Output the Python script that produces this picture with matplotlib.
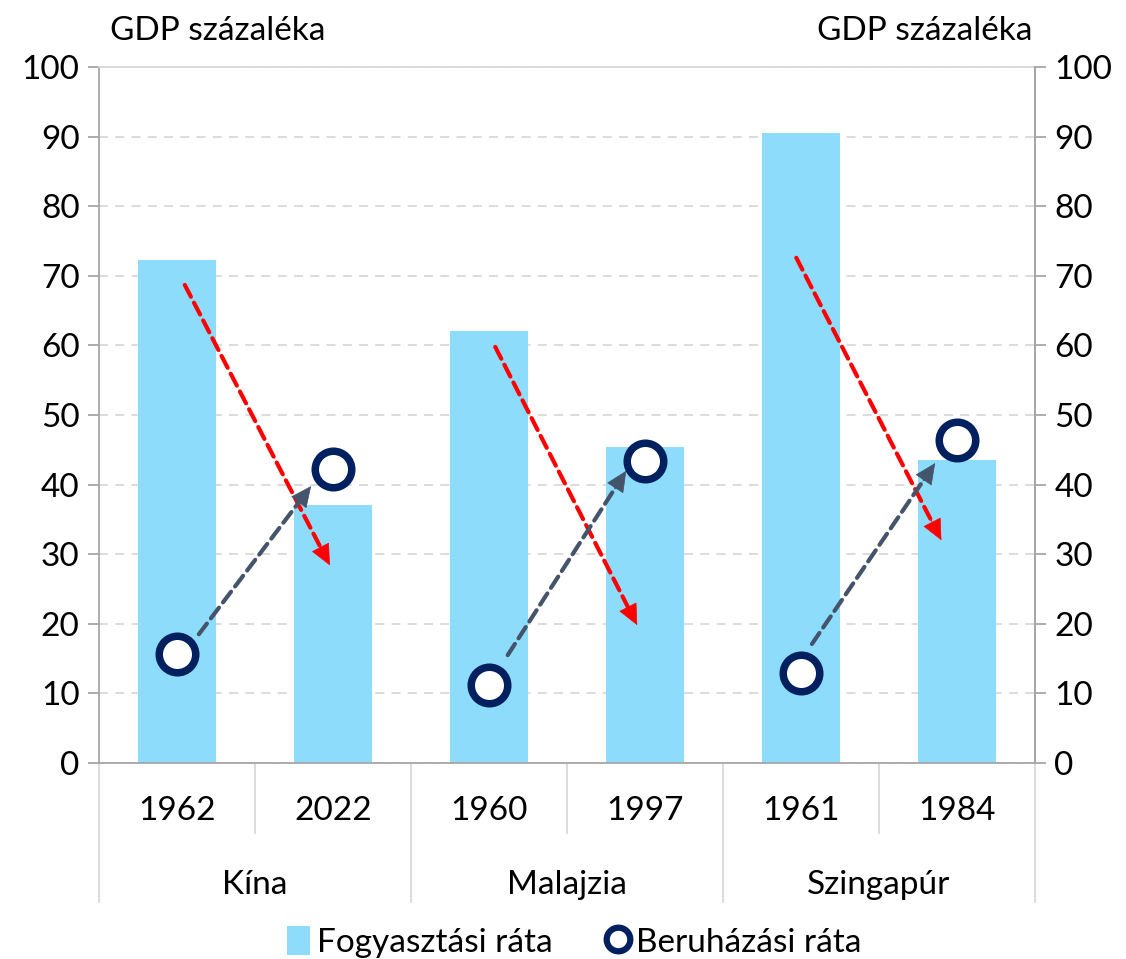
import matplotlib
matplotlib.use("Agg")
import matplotlib.pyplot as plt
from matplotlib.lines import Line2D
from matplotlib.patches import Patch
import matplotlib.transforms as mtransforms

plt.rcParams['font.family'] = ['Lato', 'DejaVu Sans']

# adatok
countries = ["Kína", "Malajzia", "Szingapúr"]
years = ["1962", "2022", "1960", "1997", "1961", "1984"]
consumption = [72.3, 37.1, 62.1, 45.4, 90.5, 43.5]
investment = [15.7, 42.2, 11.2, 43.4, 12.9, 46.4]

# nyilak (x kategória-index, y GDP%)
red_start_x = [0.05, 2.04, 3.97]
red_start_y = [68.7, 59.8, 72.6]
red_end_x = [0.98, 2.95, 4.90]
red_end_y = [28.4, 19.8, 32.0]
grey_start_x = [0.14, 2.12, 4.07]
grey_start_y = [18.5, 15.5, 17.1]
grey_end_x = [0.86, 2.88, 4.86]
grey_end_y = [39.8, 42.0, 43.1]

bar_color = "#8EDCFC"
navy = "#002060"
grey_arrow = "#44546A"
axis_grey = "#A6A6A6"
fs = 24

fig = plt.figure(figsize=(11.26, 9.59), dpi=100)
ax = fig.add_axes([0.0879, 0.2044, 0.8313, 0.7256])

x = list(range(len(years)))
ax.bar(x, consumption, width=0.5, color=bar_color, zorder=2)

# nyilak: szaggatott vonal + tömör fej
def arrow(xs, ys, xe, ye, col):
    ax.annotate("", xy=(xe, ye), xytext=(xs, ys),
                arrowprops=dict(arrowstyle="-", color=col, lw=3,
                                linestyle=(0, (3.2, 1.6)),
                                shrinkA=0, shrinkB=8),
                zorder=3)
    fx = xs + (xe - xs) * 0.9
    fy = ys + (ye - ys) * 0.9
    ax.annotate("", xy=(xe, ye), xytext=(fx, fy),
                arrowprops=dict(arrowstyle="-|>,head_length=1.4,head_width=0.65",
                                color=col, lw=0.5, shrinkA=0, shrinkB=0),
                zorder=3)

for i in range(3):
    arrow(red_start_x[i], red_start_y[i], red_end_x[i], red_end_y[i], "#FF0000")
    arrow(grey_start_x[i], grey_start_y[i], grey_end_x[i], grey_end_y[i], grey_arrow)

ax.plot(x, investment, linestyle="none", marker="o", markersize=26.3,
        markerfacecolor="white", markeredgecolor=navy, markeredgewidth=5.4,
        zorder=4)

ax.set_xlim(-0.5, 5.5)
ax.set_ylim(0, 100)
ax.set_yticks(range(0, 101, 10))
ax.tick_params(axis="y", labelsize=fs, length=8, color=axis_grey, width=1.3, pad=6)
ax.yaxis.grid(True, linestyle=(0, (5, 4)), color="#D9D9D9", linewidth=1.3, zorder=0)
ax.set_axisbelow(True)

for s in ["left", "right", "bottom", "top"]:
    ax.spines[s].set_color(axis_grey)
    ax.spines[s].set_linewidth(1.3)
ax.spines["top"].set_color("#D9D9D9")

ax2 = ax.twinx()
ax2.set_ylim(0, 100)
ax2.set_yticks(range(0, 101, 10))
ax2.tick_params(axis="y", labelsize=fs, length=8, color=axis_grey, width=1.3, pad=6)
for s in ["left", "bottom", "top"]:
    ax2.spines[s].set_visible(False)
ax2.spines["right"].set_color(axis_grey)
ax2.spines["right"].set_linewidth(1.3)

# kategória tengely
ax.set_xticks(x)
ax.set_xticklabels(years, fontsize=fs)
ax.tick_params(axis="x", length=0, pad=24)
trans = mtransforms.blended_transform_factory(ax.transData, ax.transAxes)
for b in [0.5, 2.5, 4.5]:
    ax.plot([b, b], [0, -0.1], transform=trans, color="#D9D9D9", lw=1.3, clip_on=False)
for b in [-0.5, 1.5, 3.5, 5.5]:
    ax.plot([b, b], [0, -0.2], transform=trans, color="#D9D9D9", lw=1.3, clip_on=False)
for i, c in enumerate(countries):
    ax.text(2 * i + 0.5, -0.176, c, transform=trans, ha="center", va="center", fontsize=fs)

fig.text(0.098, 0.968, "GDP százaléka", ha="left", va="center", fontsize=fs)
fig.text(0.917, 0.968, "GDP százaléka", ha="right", va="center", fontsize=fs)

handles = [Patch(facecolor=bar_color, edgecolor="none"),
           Line2D([], [], linestyle="none", marker="o", markersize=17,
                  markerfacecolor="white", markeredgecolor=navy, markeredgewidth=4.5)]
fig.legend(handles, ["Fogyasztási ráta", "Beruházási ráta"], loc="center",
           bbox_to_anchor=(0.51, 0.018), ncol=2, frameon=False, fontsize=fs,
           handlelength=0.7, handleheight=1.0, handletextpad=0.2, columnspacing=1.6)

fig.savefig("out.png", dpi=100)
